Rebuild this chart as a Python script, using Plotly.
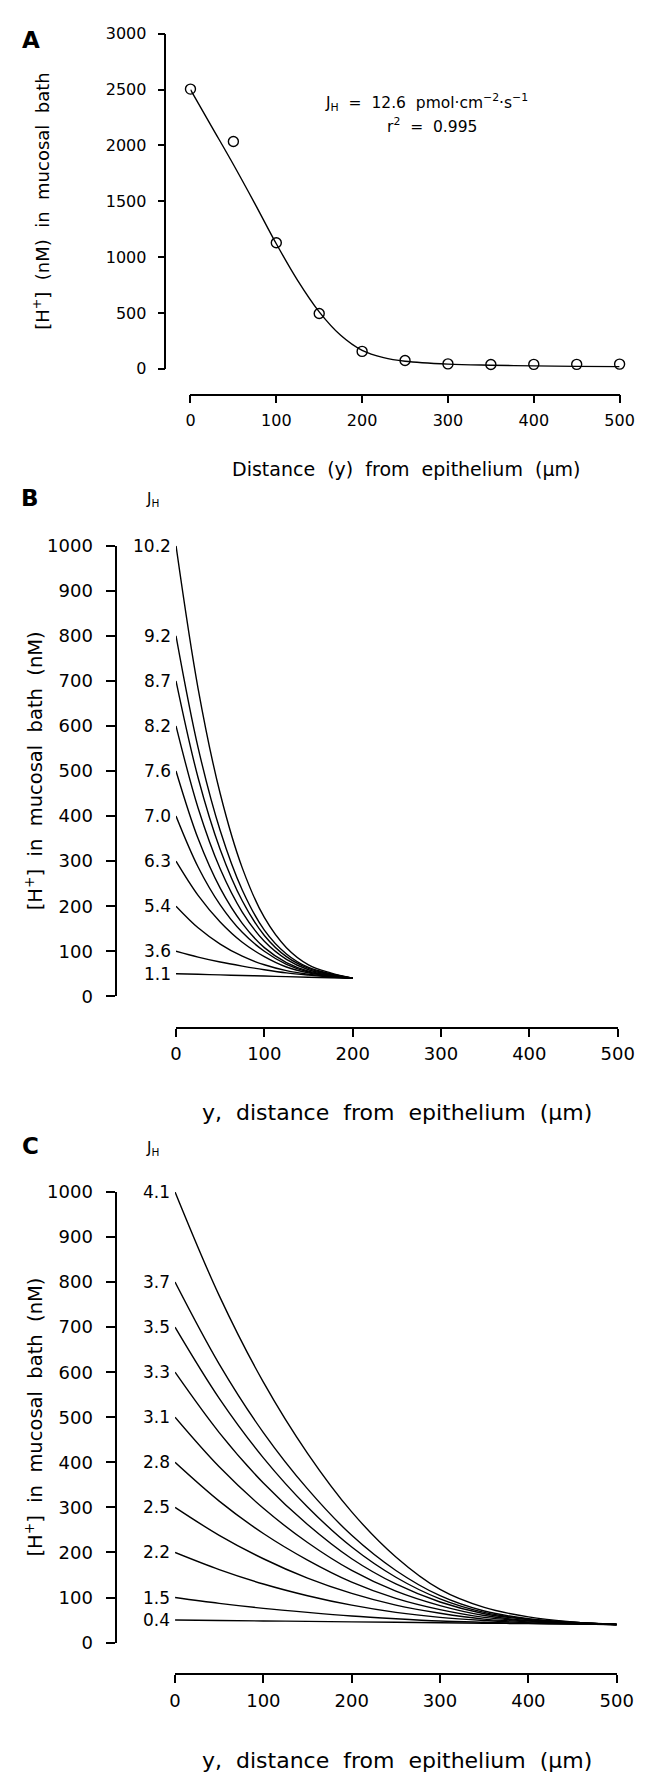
import plotly.graph_objects as go

W, H = 645, 1776
FONT = "DejaVu Sans"

# ---------------- Panel A data ----------------
a_x_pts = [0, 50, 100, 150, 200, 250, 300, 350, 400, 450, 500]
a_y_pts = [2505, 2036, 1129, 495, 156, 74, 44, 38, 40, 40, 42]
a_x_fit = [0, 25, 50, 75, 100, 125, 150, 175, 200, 225, 250, 300, 350, 400, 450, 500]
a_y_fit = [2500, 2165, 1830, 1480, 1120, 790, 510, 300, 165, 100, 68, 42, 32, 26, 22, 20]
a_yticks = [0, 500, 1000, 1500, 2000, 2500, 3000]
a_xticks = [0, 100, 200, 300, 400, 500]

# ---------------- Panel B data ----------------
b_x = [0, 25, 50, 75, 100, 125, 150, 175, 200]
b_labels = ["10.2", "9.2", "8.7", "8.2", "7.6", "7.0", "6.3", "5.4", "3.6", "1.1"]
b_curves = [
    [1000, 683, 450, 285, 175, 108, 70, 52, 40],
    [800, 552, 368, 236, 147, 94, 64, 50, 40],
    [700, 485, 326, 212, 135, 88, 62, 49, 40],
    [600, 418, 283, 187, 122, 82, 59, 48, 40],
    [500, 350, 240, 162, 108, 75, 56, 47, 40],
    [400, 287, 203, 142, 100, 71, 54, 46, 40],
    [300, 224, 165, 120, 88, 65, 52, 45, 40],
    [200, 152, 116, 89, 70, 57, 49, 44, 40],
    [100, 87, 76, 67, 59, 52, 47, 43, 40],
    [50, 48.8, 47.5, 46.2, 45, 43.6, 42.3, 41.1, 40],
]

# ---------------- Panel C data ----------------
c_x = [0, 50, 100, 150, 200, 250, 300, 350, 400, 450, 500]
c_labels = ["4.1", "3.7", "3.5", "3.3", "3.1", "2.8", "2.5", "2.2", "1.5", "0.4"]
c_curves = [
    [1000, 770, 578, 420, 290, 190, 118, 78, 57, 46, 40],
    [800, 618, 466, 341, 238, 160, 104, 70, 53, 45, 40],
    [700, 542, 410, 301, 212, 145, 97, 67, 52, 45, 40],
    [600, 466, 354, 262, 186, 130, 90, 64, 51, 44, 40],
    [500, 390, 298, 222, 160, 114, 82, 60, 49, 44, 40],
    [400, 314, 242, 183, 134, 98, 73, 56, 48, 43, 40],
    [300, 238, 186, 143, 109, 83, 65, 52, 46, 42, 40],
    [200, 162, 130, 104, 83, 67, 56, 49, 44, 42, 40],
    [100, 87, 76, 67, 59, 53, 48, 45, 42.5, 41, 40],
    [50, 49, 48, 47, 46, 45, 44, 43, 42, 41, 40],
]
bc_yticks = [0, 100, 200, 300, 400, 500, 600, 700, 800, 900, 1000]
bc_xticks = [0, 100, 200, 300, 400, 500]


def px(x):
    return x / W


def py(y):
    return 1 - y / H


fig = go.Figure()

LW = 1.4
# Panel A
fig.add_trace(go.Scatter(x=a_x_fit, y=a_y_fit, mode="lines", line=dict(color="black", width=LW, shape="spline"),
                         xaxis="x", yaxis="y", showlegend=False, hoverinfo="skip"))
fig.add_trace(go.Scatter(x=a_x_pts, y=a_y_pts, mode="markers", cliponaxis=False,
                         marker=dict(symbol="circle-open", size=10, color="black", line=dict(width=1.4)),
                         xaxis="x", yaxis="y", showlegend=False))

# Panel B
for vals in b_curves:
    fig.add_trace(go.Scatter(x=b_x, y=vals, mode="lines", line=dict(color="black", width=LW, shape="spline"),
                             xaxis="x2", yaxis="y2", showlegend=False, cliponaxis=False))
# Panel C
for vals in c_curves:
    fig.add_trace(go.Scatter(x=c_x, y=vals, mode="lines", line=dict(color="black", width=LW, shape="spline"),
                             xaxis="x3", yaxis="y3", showlegend=False, cliponaxis=False))

axis_common = dict(showgrid=False, zeroline=False, showline=True, linecolor="black", linewidth=1.5,
                   ticks="outside", tickcolor="black", tickwidth=1.5, ticklen=8, anchor="free")

fig.update_layout(
    width=W, height=H, margin=dict(l=0, r=0, t=0, b=0),
    paper_bgcolor="white", plot_bgcolor="white",
    font=dict(family=FONT, color="black"),
    xaxis=dict(axis_common, domain=[px(183), px(628)], range=[0, 500], tickvals=a_xticks,
               position=py(380), tickfont=dict(size=16), ticklabelstandoff=4),
    yaxis=dict(axis_common, domain=[py(354), py(15)], range=[0, 3000], tickvals=a_yticks,
               position=px(157), tickfont=dict(size=16), ticklabelstandoff=8, ticklen=7),
    xaxis2=dict(axis_common, domain=[px(168), px(626)], range=[0, 500], tickvals=bc_xticks,
                position=py(1021), tickfont=dict(size=18), ticklabelstandoff=2),
    yaxis2=dict(axis_common, domain=[py(989), py(533)], range=[0, 1000], tickvals=bc_yticks,
                position=px(106), tickfont=dict(size=18), ticklabelstandoff=10, ticklen=9),
    xaxis3=dict(axis_common, domain=[px(167), px(625)], range=[0, 500], tickvals=bc_xticks,
                position=py(1675), tickfont=dict(size=18), ticklabelstandoff=2),
    yaxis3=dict(axis_common, domain=[py(1643), py(1187)], range=[0, 1000], tickvals=bc_yticks,
                position=px(106), tickfont=dict(size=18), ticklabelstandoff=10, ticklen=9),
)

ann = []


def paper_text(text, x, y, size, **kw):
    d = dict(text=text, x=px(x), y=py(y), xref="paper", yref="paper", showarrow=False,
             font=dict(family=FONT, size=size, color="black"), xanchor="center", yanchor="middle")
    d.update(kw)
    ann.append(d)


# Panel letters
paper_text("<b>A</b>", 18, 21, 23)
paper_text("<b>B</b>", 17, 485, 23)
paper_text("<b>C</b>", 17, 1140, 23)

# Panel A texts
paper_text("J<sub>H</sub>  =  12.6  pmol·cm<sup>−2</sup>·s<sup>−1</sup>", 428, 84, 15.5)
paper_text("r<sup>2</sup>  =  0.995", 433, 108, 15.5)
paper_text("[H<sup>+</sup>]  (nM)  in  mucosal  bath", 28, 184, 18, textangle=-90)
paper_text("Distance  (y)  from  epithelium  (μm)", 406, 455, 19)

# Panel B texts
paper_text("J<sub>H</sub>", 144, 486, 15)
paper_text("[H<sup>+</sup>]  in  mucosal  bath  (nM)", 21, 761, 19.5, textangle=-90)
paper_text("y,  distance  from  epithelium  (μm)", 397, 1107, 22)

# Panel C texts
paper_text("J<sub>H</sub>", 144, 1143, 15)
paper_text("[H<sup>+</sup>]  in  mucosal  bath  (nM)", 21, 1415, 19.5, textangle=-90)
paper_text("y,  distance  from  epithelium  (μm)", 397, 1762, 22)

# Curve labels from data
for lab, vals in zip(b_labels, b_curves):
    ann.append(dict(text=lab, x=b_x[0], y=vals[0], xref="x2", yref="y2", showarrow=False,
                    xanchor="right", yanchor="middle", xshift=-3,
                    font=dict(family=FONT, size=17, color="black")))
for lab, vals in zip(c_labels, c_curves):
    ann.append(dict(text=lab, x=c_x[0], y=vals[0], xref="x3", yref="y3", showarrow=False,
                    xanchor="right", yanchor="middle", xshift=-3,
                    font=dict(family=FONT, size=17, color="black")))

fig.update_layout(annotations=ann)
fig.write_html("out.html")
